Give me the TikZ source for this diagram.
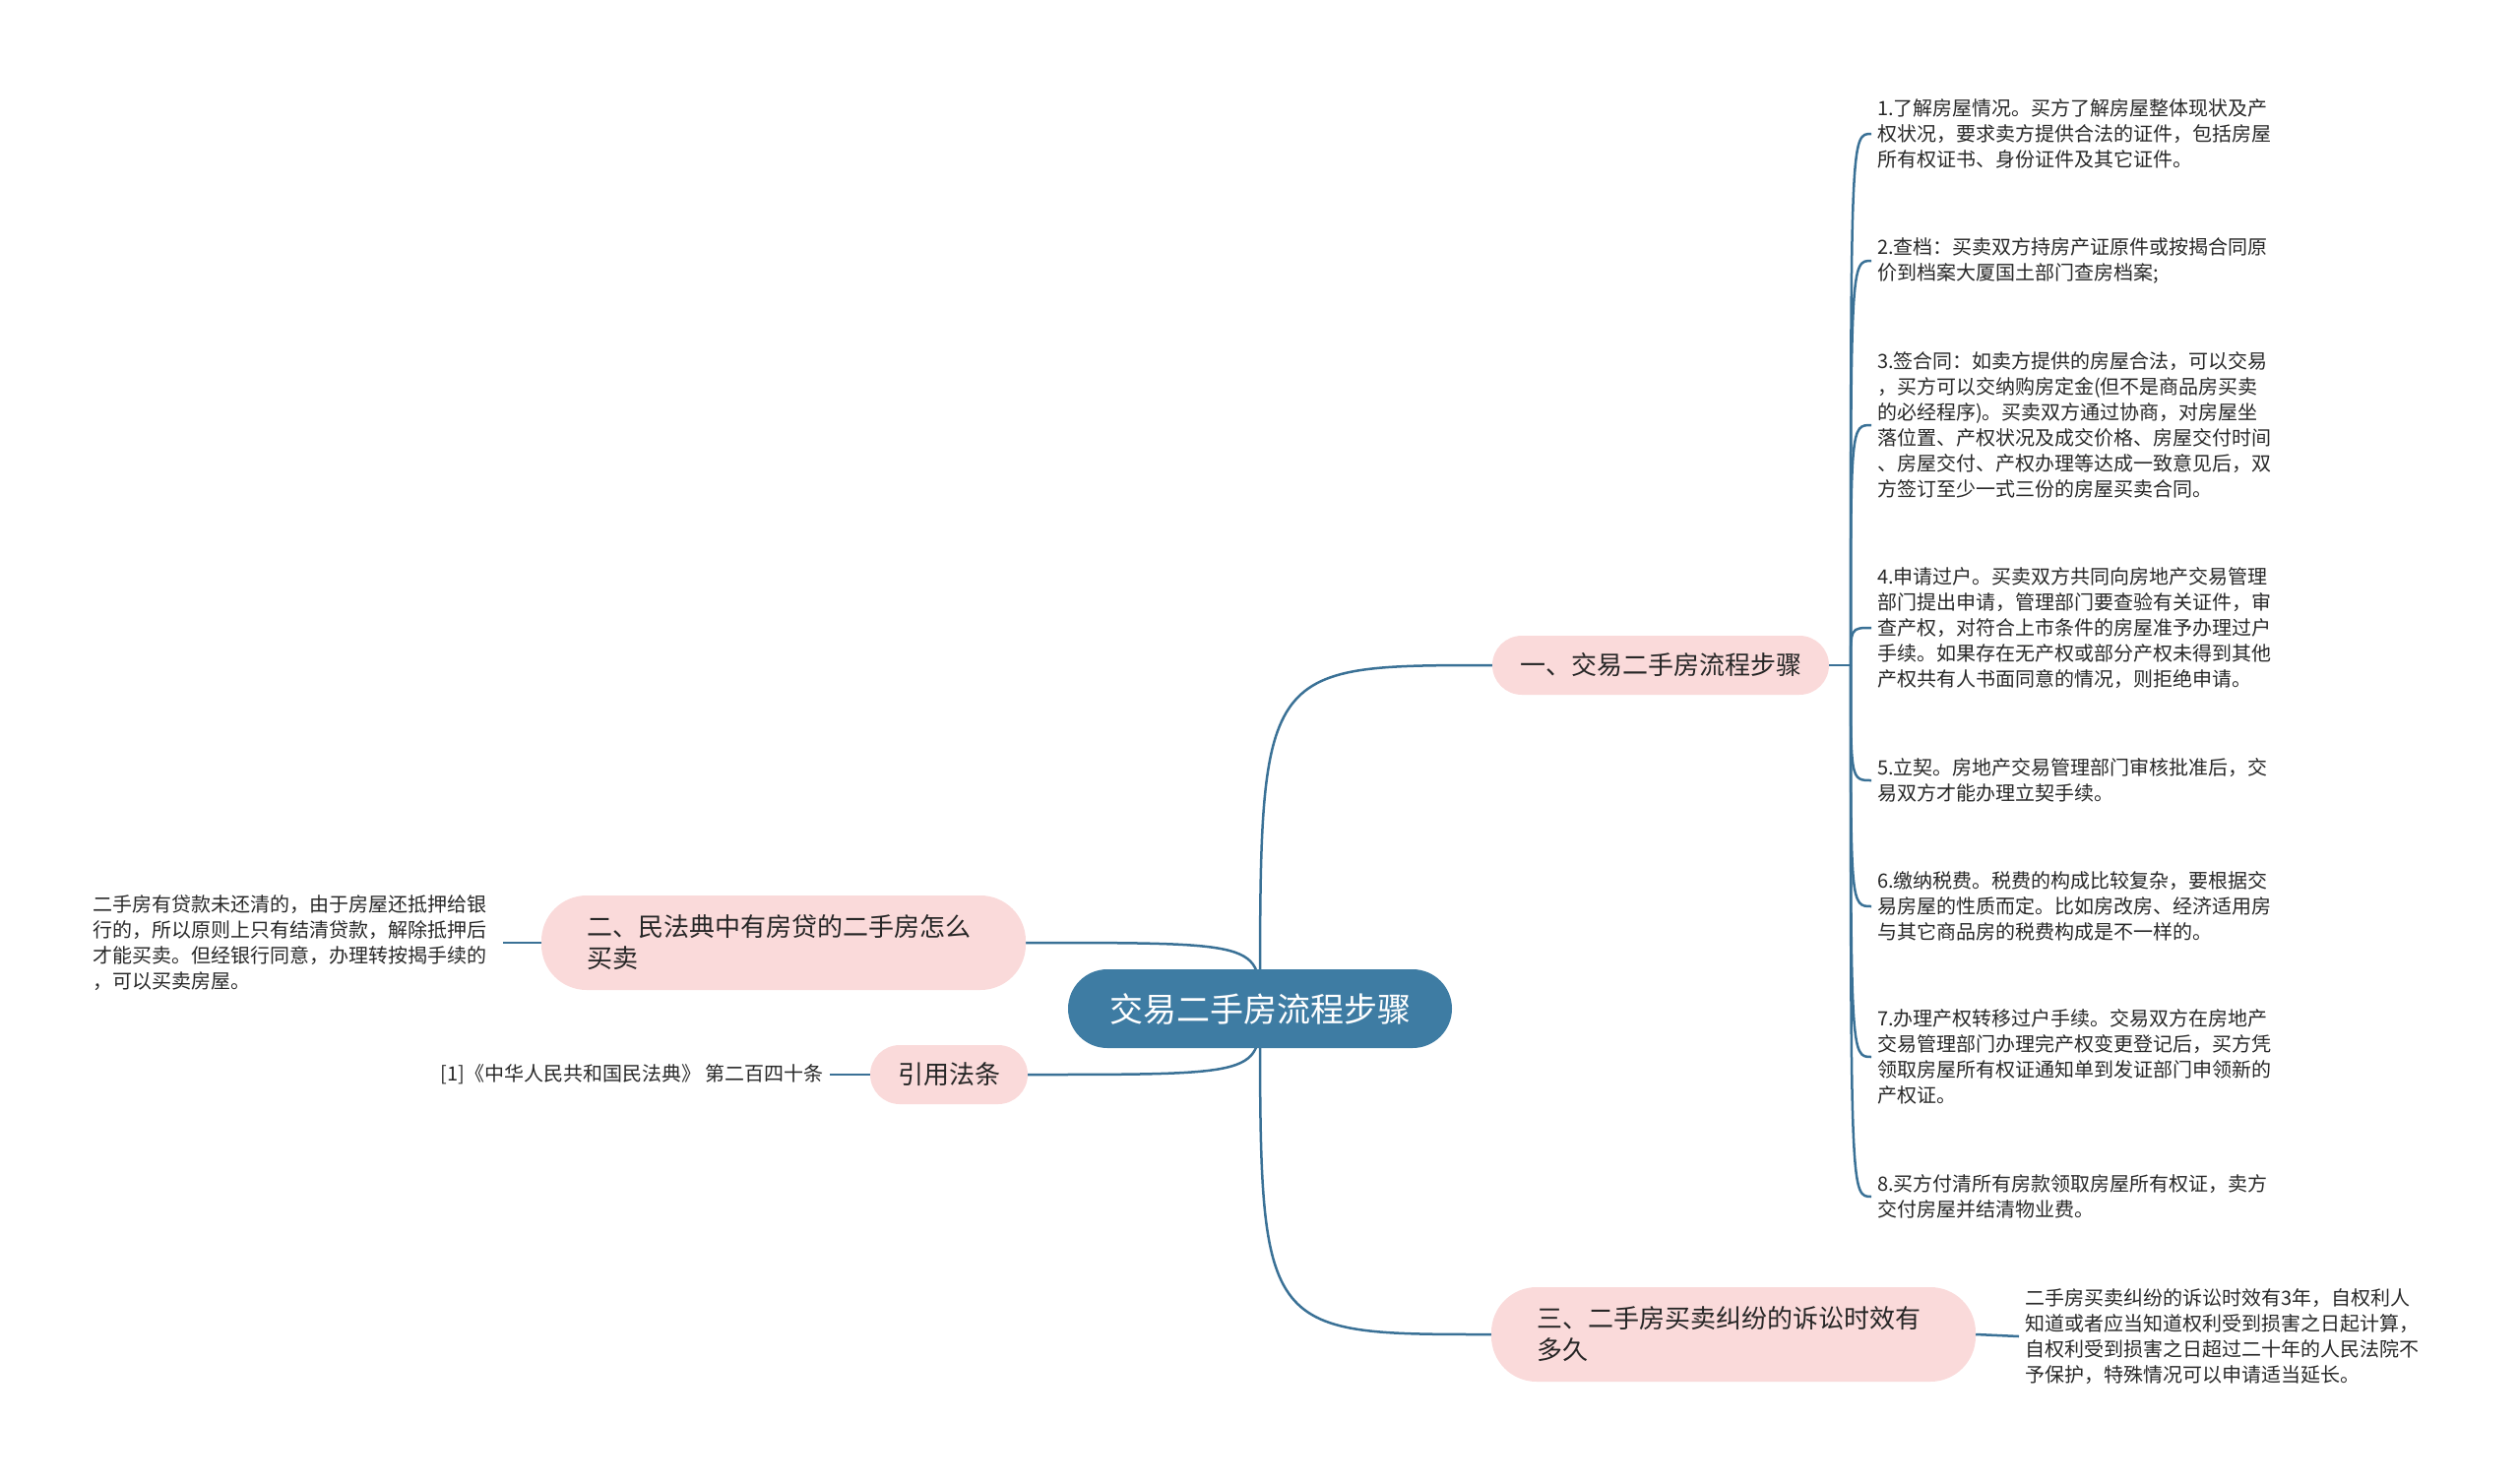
\documentclass[tikz,border=0pt]{standalone}
\usepackage{fontspec}
\setmainfont{Noto Sans CJK SC}
\usetikzlibrary{backgrounds}
\definecolor{rootblue}{RGB}{62,124,163}
\definecolor{linkblue}{RGB}{58,113,150}
\definecolor{topicpink}{RGB}{250,218,218}
\definecolor{leafgray}{RGB}{40,40,40}
\tikzset{
  rootbox/.style={rectangle,fill=rootblue,rounded corners=40pt,minimum width=390pt,
        minimum height=80pt,text=white,font=\fontsize{34pt}{40pt}\selectfont},
  topicbox/.style={rectangle,fill=topicpink,rounded corners=30pt,inner xsep=28pt,
        minimum height=60pt,text=black!85,font=\fontsize{26pt}{32pt}\selectfont},
  widetopic/.style={topicbox,rounded corners=46pt,text width=400pt,align=left,
        inner xsep=46pt,minimum height=96pt},
  plaintext/.style={inner sep=6pt,text=leafgray,font=\fontsize{20pt}{26pt}\selectfont},
  leaftext/.style={plaintext,text width=410pt,align=left},
  link/.style={draw=linkblue,line width=2.5pt}
}
\begin{document}
\begin{tikzpicture}[x=1pt,y=-1pt]
  \useasboundingbox (0,0) rectangle (2560,1505);
  % centre and main topics
  \node[rootbox] (root) at (1280,1025) {交易二手房流程步骤};
  \node[topicbox] (b1) at (1687,676) {一、交易二手房流程步骤};
  \node[widetopic] (b2) at (796,958) {二、民法典中有房贷的二手房怎么\\买卖};
  \node[topicbox] (law) at (964,1092) {引用法条};
  \node[widetopic] (b3) at (1761,1356) {三、二手房买卖纠纷的诉讼时效有\\多久};
  % steps
  \coordinate (j1) at (1880,676);
  \node[leaftext,anchor=west] (s1) at (1901,136) {1.了解房屋情况。买方了解房屋整体现状及产\\权状况，要求卖方提供合法的证件，包括房屋\\所有权证书、身份证件及其它证件。};
  \node[leaftext,anchor=west] (s2) at (1901,265) {2.查档：买卖双方持房产证原件或按揭合同原\\价到档案大厦国土部门查房档案;};
  \node[leaftext,anchor=west] (s3) at (1901,432) {3.签合同：如卖方提供的房屋合法，可以交易\\，买方可以交纳购房定金(但不是商品房买卖\\的必经程序)。买卖双方通过协商，对房屋坐\\落位置、产权状况及成交价格、房屋交付时间\\、房屋交付、产权办理等达成一致意见后，双\\方签订至少一式三份的房屋买卖合同。};
  \node[leaftext,anchor=west] (s4) at (1901,638) {4.申请过户。买卖双方共同向房地产交易管理\\部门提出申请，管理部门要查验有关证件，审\\查产权，对符合上市条件的房屋准予办理过户\\手续。如果存在无产权或部分产权未得到其他\\产权共有人书面同意的情况，则拒绝申请。};
  \node[leaftext,anchor=west] (s5) at (1901,793) {5.立契。房地产交易管理部门审核批准后，交\\易双方才能办理立契手续。};
  \node[leaftext,anchor=west] (s6) at (1901,921) {6.缴纳税费。税费的构成比较复杂，要根据交\\易房屋的性质而定。比如房改房、经济适用房\\与其它商品房的税费构成是不一样的。};
  \node[leaftext,anchor=west] (s7) at (1901,1074) {7.办理产权转移过户手续。交易双方在房地产\\交易管理部门办理完产权变更登记后，买方凭\\领取房屋所有权证通知单到发证部门申领新的\\产权证。};
  \node[leaftext,anchor=west] (s8) at (1901,1216) {8.买方付清所有房款领取房屋所有权证，卖方\\交付房屋并结清物业费。};
  % other details
  \node[leaftext,anchor=east] (d2) at (511,958) {二手房有贷款未还清的，由于房屋还抵押给银\\行的，所以原则上只有结清贷款，解除抵押后\\才能买卖。但经银行同意，办理转按揭手续的\\，可以买卖房屋。};
  \node[plaintext,anchor=east] (dlaw) at (843,1092) {[1]《中华人民共和国民法典》 第二百四十条};
  \node[leaftext,anchor=west] (d3) at (2051,1358) {二手房买卖纠纷的诉讼时效有3年，自权利人\\知道或者应当知道权利受到损害之日起计算，\\自权利受到损害之日超过二十年的人民法院不\\予保护，特殊情况可以申请适当延长。};
  % connectors
  \begin{scope}[on background layer]
    \draw[link] (root.center) .. controls (root.center |- b1.west) .. (b1.west);
    \draw[link] (root.center) .. controls (root.center |- b2.east) .. (b2.east);
    \draw[link] (root.center) .. controls (root.center |- law.east) .. (law.east);
    \draw[link] (root.center) .. controls (root.center |- b3.west) .. (b3.west);
  \end{scope}
  \draw[link] (b1.east) -- (j1);
  \foreach \i in {1,...,8}
    \draw[link] (j1) .. controls (j1 |- s\i.west) .. (s\i.west);
  \draw[link] (b2.west) -- (d2.east);
  \draw[link] (law.west) -- (dlaw.east);
  \draw[link] (b3.east) -- (d3.west);
\end{tikzpicture}
\end{document}
